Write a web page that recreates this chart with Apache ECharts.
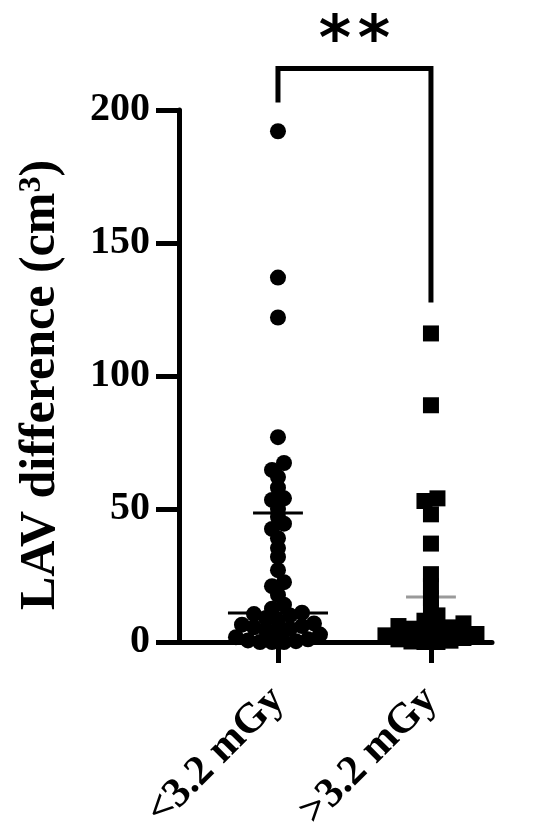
<!DOCTYPE html>
<html><head><meta charset="utf-8">
<script src="https://cdn.jsdelivr.net/npm/echarts@6/dist/echarts.min.js"></script>
<style>html,body{margin:0;padding:0;background:#fff}#c{width:550px;height:833px}</style>
</head><body><div id="c"></div>
<script>
// ---- data ----
const categories = ['<3.2 mGy', '>3.2 mGy'];
const group1 = [192, 137, 122, 77, 67.3, 64.7, 62, 58, 54, 53.4, 50, 47, 44.5, 42.5, 39, 35.3, 32, 27, 22.5, 21, 17.7, 14, 12.5,
  11, 10.5, 10, 9, 8, 7, 6.5, 6, 5.5, 5, 4.5, 4, 2.8, 1.8, 1, 0.6, 0.3, 0, 0, 0];
const group2 = [116, 89, 54, 53, 48, 37, 25.5, 21, 16.5, 13, 10, 8, 7, 6, 5.5, 5, 4.5, 4, 3, 2.5, 1.5, 1, 0.5, 0.2, 0, 0];
const yTicks = [0, 50, 100, 150, 200];
const g1Median = [10.9];
const g1Upper = [48.5];
const g2Upper = [16.9];
const bracketLevels = [203.8, 215.6, 128.6]; // left leg end, bar, right leg end
const sigLabel = ['*', '*'];

const FONT = '"Liberation Serif", "Times New Roman", serif';
const chart = echarts.init(document.getElementById('c'), null, {renderer: 'canvas'});

function hline(x, half, y, color, z) {
  return {type: 'line', data: [[x - half, y], [x + half, y]], symbol: 'none', silent: true,
    lineStyle: {color: color, width: 3}, z: z, animation: false};
}

function baseOption(d1, d2, graphic) {
  return {
    animation: false,
    backgroundColor: '#fff',
    grid: {left: 179, right: 58, top: 110, bottom: 191, containLabel: false, outerBoundsMode: 'none'},
    xAxis: {
      type: 'value', min: 0.353, max: 2.399,
      splitLine: {show: false},
      axisLine: {show: true, onZero: false, lineStyle: {color: '#000', width: 5}},
      axisTick: {show: true, customValues: [1, 2], length: 21, lineStyle: {color: '#000', width: 5}},
      axisLabel: {show: true, customValues: [1, 2], rotate: 45, margin: 52,
        formatter: v => categories[Math.round(v) - 1] || '',
        fontFamily: FONT, fontWeight: 'bold', fontSize: 42, color: '#000'}
    },
    yAxis: {
      type: 'value', min: yTicks[0], max: yTicks[yTicks.length - 1], interval: yTicks[1] - yTicks[0],
      splitLine: {show: false},
      axisLine: {show: true, lineStyle: {color: '#000', width: 5}},
      axisTick: {show: true, length: 23, lineStyle: {color: '#000', width: 5}},
      axisLabel: {margin: 29, fontFamily: FONT, fontWeight: 'bold', fontSize: 40, color: '#000'},
      name: 'LAV difference (cm{sup|3})',
      nameLocation: 'middle', nameGap: 113,
      nameTextStyle: {fontFamily: FONT, fontWeight: 'bold', fontSize: 50, color: '#000',
        padding: [0, 18, 0, 0],
        rich: {sup: {fontFamily: FONT, fontWeight: 'bold', fontSize: 32, color: '#000', verticalAlign: 'top'}}}
    },
    graphic: graphic,
    series: [
      hline(2, 0.163, g2Upper[0], '#9a9a9a', 1),
      {type: 'scatter', data: d1, symbol: 'circle', symbolSize: 16, itemStyle: {color: '#000', opacity: 1}, z: 2, silent: true},
      {type: 'scatter', data: d2, symbol: 'rect', symbolSize: 16, itemStyle: {color: '#000', opacity: 1}, z: 2, silent: true},
      hline(1, 0.327, g1Median[0], '#000', 3),
      hline(1, 0.163, g1Upper[0], '#000', 3),
      {type: 'line', clip: false, symbol: 'none', silent: true, z: 4,
        data: [[1, bracketLevels[0]], [1, bracketLevels[1]], [2, bracketLevels[1]], [2, bracketLevels[2]]],
        lineStyle: {color: '#000', width: 5, join: 'miter', cap: 'square'}}
    ]
  };
}

chart.setOption(baseOption([], [], []));

// simple GraphPad-like row-binned swarm, computed in pixel space through the axes
function swarm(values, center, binPx, spacePx) {
  const toPx = (x, y) => chart.convertToPixel({gridIndex: 0}, [x, y]);
  const y0 = toPx(center, 0)[1];
  const pxPerX = toPx(2, 0)[0] - toPx(1, 0)[0];
  const bins = {};
  values.forEach(v => {
    const py = toPx(center, v)[1];
    const b = Math.floor((y0 - py) / binPx + 1e-9);
    (bins[b] = bins[b] || []).push(v);
  });
  const out = [];
  Object.keys(bins).forEach(k => {
    const arr = bins[k].slice().sort((a, b) => a - b);
    const n = arr.length;
    const slots = [];
    for (let i = 0; i < n; i++) slots.push((i - (n - 1) / 2) * spacePx);
    slots.sort((a, b) => Math.abs(a) - Math.abs(b) || a - b);
    arr.forEach((v, i) => out.push([center + slots[i] / pxPerX, v]));
  });
  return out;
}

const d1 = swarm(group1, 1, 10, 12);
const d2 = swarm(group2, 2, 10, 13);
const starPos = chart.convertToPixel({gridIndex: 0}, [1.5, bracketLevels[1]]);
const graphic = sigLabel.map((s, i) => ({
  type: 'text', x: starPos[0] + (i - (sigLabel.length - 1) / 2) * 39, y: starPos[1] - 26,
  style: {text: s, fontFamily: '"DejaVu Sans", sans-serif', fontWeight: 'bold', fontSize: 62,
    fill: '#000', align: 'center', verticalAlign: 'middle'}
}));
chart.setOption(baseOption(d1, d2, graphic), true);
</script>
</body></html>
